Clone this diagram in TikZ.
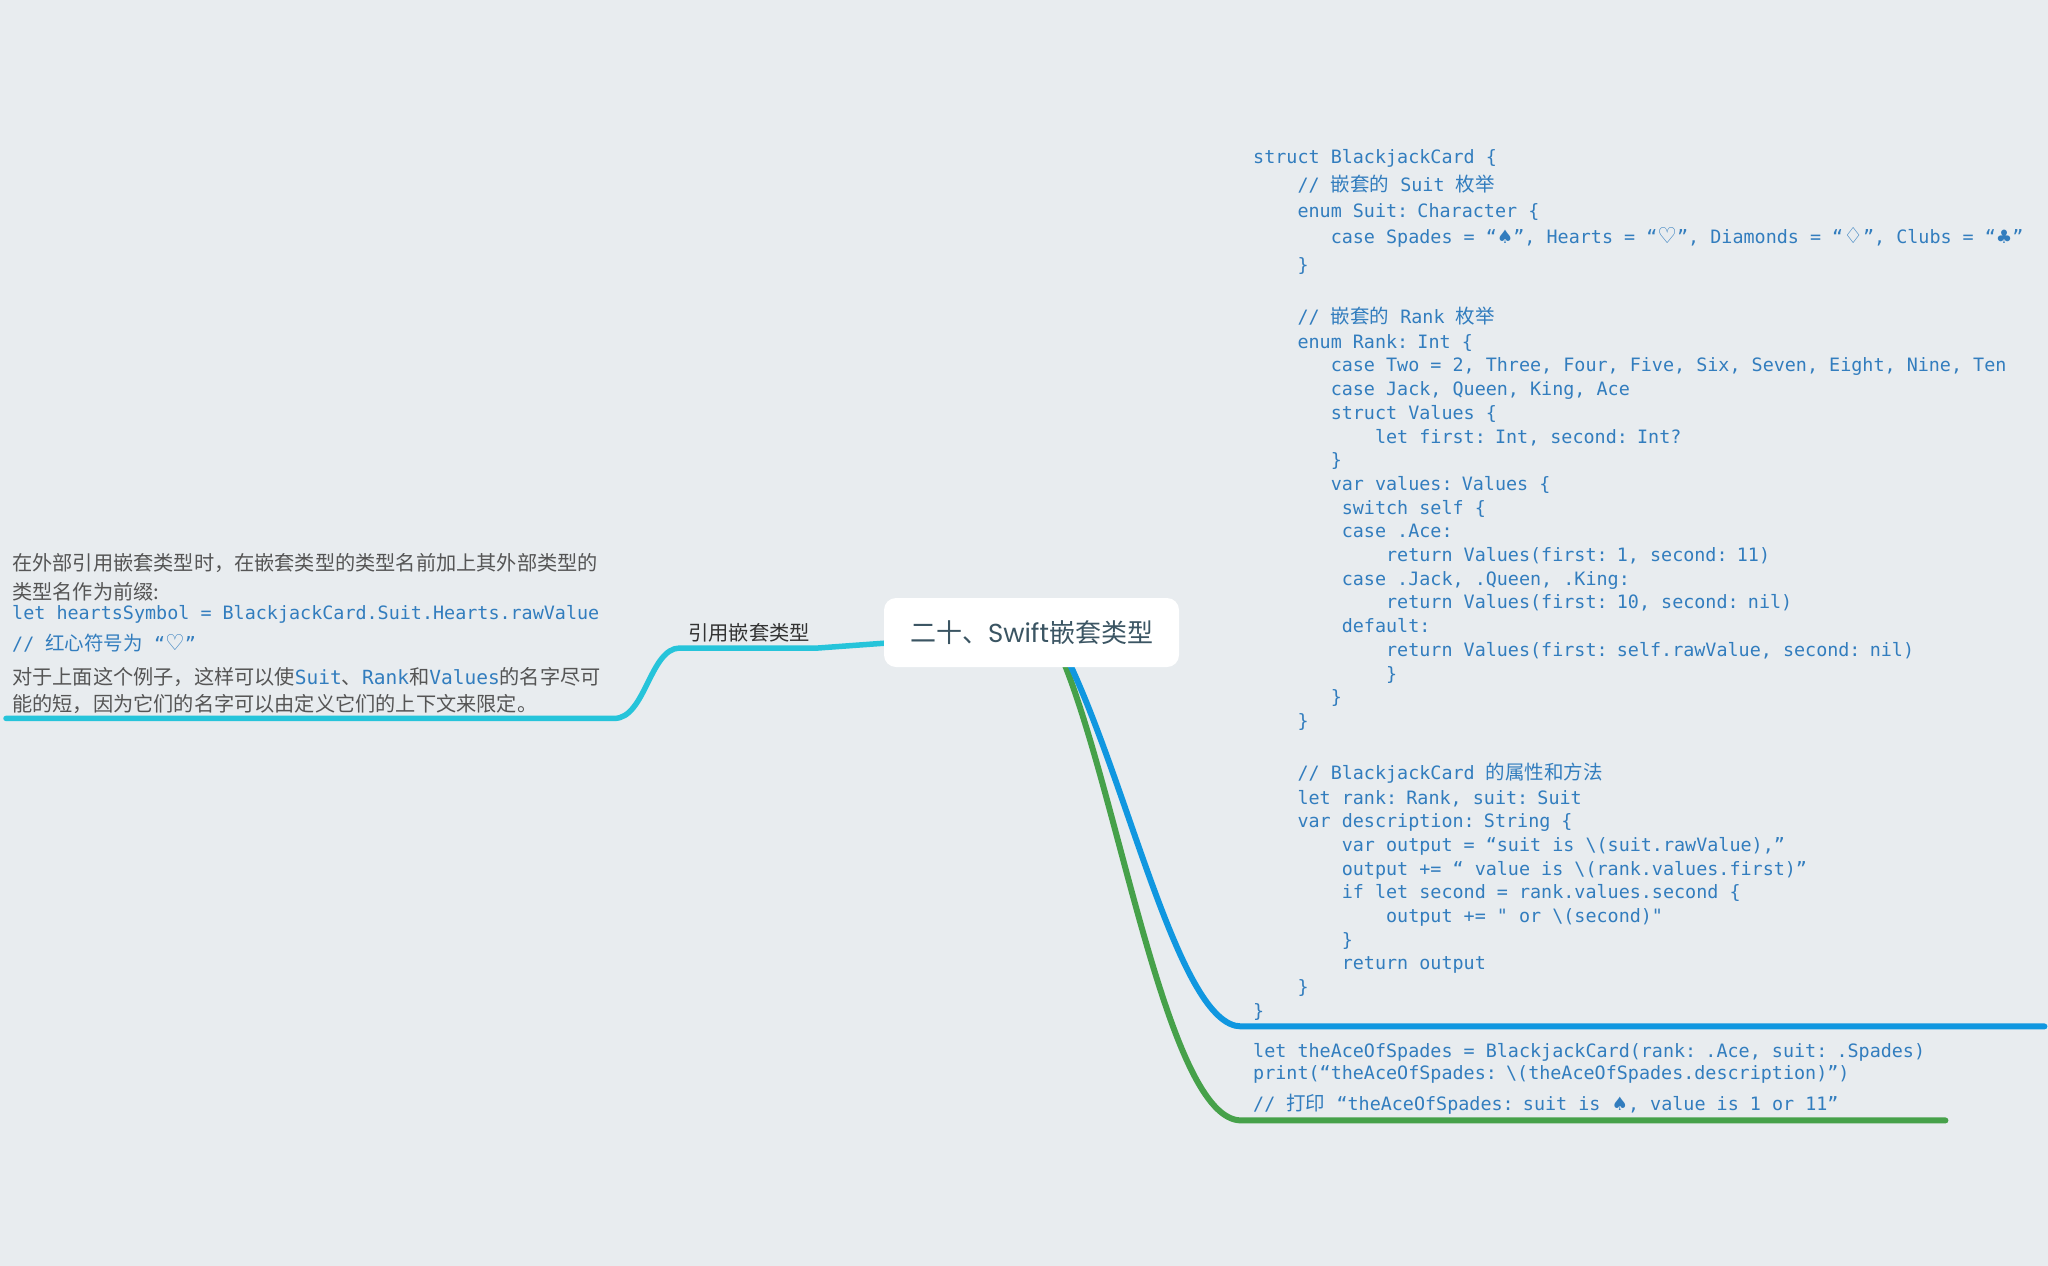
\documentclass[tikz,border=0pt]{standalone}
\usepackage{fontspec}
\newfontfamily\monof{DejaVu Sans Mono}
\newfontfamily\cjkf{Noto Sans CJK SC}
\newfontfamily\symf{DejaVu Sans}
\newfontfamily\latf{Poppins}
\usetikzlibrary{backgrounds}
\definecolor{bg}{HTML}{E8ECEF}
\definecolor{codeblue}{HTML}{327DBE}
\definecolor{graytxt}{HTML}{555555}
\definecolor{lblc}{HTML}{333333}
\definecolor{rootc}{HTML}{3B5563}
\definecolor{cyanl}{HTML}{26C4DA}
\definecolor{bluel}{HTML}{1097E0}
\definecolor{greenl}{HTML}{46A14A}
\newlength\chw
\newcommand\ind[1]{\hspace*{#1\chw}}
\newcommand\msp{\spaceskip=\chw\relax}
\newcommand\zh[1]{{\cjkf\fontsize{19.5}{23.7}\selectfont #1}}
\newcommand\sy[1]{{\symf #1}}
\newcommand\syb[1]{{\symf\fontsize{22}{23.7}\selectfont #1}}
\newcommand\cd[1]{{\monof\fontsize{18.4}{20.3}\selectfont\msp\color{codeblue}#1}}
\newcommand\cdl[1]{{\monof\fontsize{19.5}{20.3}\selectfont\color{codeblue}#1}}
\begin{document}
\settowidth\chw{\monof\fontsize{18.4}{23.7}\selectfont x}
\begin{tikzpicture}[x=1pt,y=-1pt,
  rootst/.style={rectangle, rounded corners=12pt, fill=white, minimum width=295pt, minimum height=69pt, inner sep=0pt, text=rootc, font=\cjkf\fontsize{26}{30}\selectfont},
  lblst/.style={inner xsep=8pt, inner ysep=0pt, text=lblc, font=\cjkf\fontsize{20.3}{24}\selectfont},
  notest/.style={inner xsep=6pt, inner ysep=0pt, align=left, text=graytxt, text width=596pt, font=\cjkf\fontsize{20.2}{20.3}\selectfont},
  codest/.style={inner xsep=12pt, inner ysep=0pt, align=left, text=codeblue, text width=779pt, font=\monof\fontsize{18.4}{23.7}\selectfont},
  conn/.style={line width=6pt, line cap=round, line join=round}]
\useasboundingbox (0,0) rectangle (2048,1266);

\node[rootst] (root) at (1031.5,632.5) {二十、{\latf Swift}嵌套类型};

\node[lblst, anchor=south] (lbl) at (749,648) {\rule[-7pt]{0pt}{27pt}引用嵌套类型};

\node[notest, anchor=north west] (note) at (6,549.8) {\rule{0pt}{20pt}在外部引用嵌套类型时，在嵌套类型的类型名前加上其外部类型的\\[9.1pt]
类型名作为前缀:\\
\cd{let heartsSymbol = BlackjackCard.Suit.Hearts.rawValue}\\[10.5pt]
{\monof\fontsize{18.4}{20.3}\selectfont\msp\color{codeblue}// \zh{红心符号为} “\syb{♡}”}\\[13.6pt]
对于上面这个例子，这样可以使\cdl{Suit}、\cdl{Rank}和\cdl{Values}的名字尽可\\[7pt]
能的短，因为它们的名字可以由定义它们的上下文来限定。\rule[-6.5pt]{0pt}{6.5pt}};

\node[codest, anchor=north west] (code) at (1241,143.5) {\msp\rule{0pt}{20pt}struct BlackjackCard \{\\[4.3pt]
\ind4// \zh{嵌套的} Suit \zh{枚举}\\[1.8pt]
\ind4enum Suit: Character \{\\[2.8pt]
\ind7case Spades = “\sy{♠}”, Hearts = “\syb{♡}”, Diamonds = “\syb{♢}”, Clubs = “\sy{♣}”\\[4.3pt]
\ind4\}\\[27.8pt]
\ind4// \zh{嵌套的} Rank \zh{枚举}\\[1.3pt]
\ind4enum Rank: Int \{\\
\ind7case Two = 2, Three, Four, Five, Six, Seven, Eight, Nine, Ten\\
\ind7case Jack, Queen, King, Ace\\
\ind7struct Values \{\\
\ind{11}let first: Int, second: Int?\\
\ind7\}\\
\ind7var values: Values \{\\
\ind8switch self \{\\
\ind8case .Ace:\\
\ind{12}return Values(first: 1, second: 11)\\
\ind8case .Jack, .Queen, .King:\\
\ind{12}return Values(first: 10, second: nil)\\
\ind8default:\\
\ind{12}return Values(first: self.rawValue, second: nil)\\
\ind{12}\}\\
\ind7\}\\
\ind4\}\\[27.9pt]
\ind4// BlackjackCard \zh{的属性和方法}\\[1.3pt]
\ind4let rank: Rank, suit: Suit\\
\ind4var description: String \{\\
\ind8var output = “suit is \textbackslash(suit.rawValue),”\\
\ind8output += “ value is \textbackslash(rank.values.first)”\\
\ind8if let second = rank.values.second \{\\
\ind{12}output += " or \textbackslash(second)"\\
\ind8\}\\
\ind8return output\\
\ind4\}\\
\}\rule[-8.9pt]{0pt}{8.9pt}};

\node[codest, text width=680pt, font=\monof\fontsize{18.4}{22.7}\selectfont, anchor=north west] (out) at (1241,1036.8) {\msp\rule{0pt}{20pt}let theAceOfSpades = BlackjackCard(rank: .Ace, suit: .Spades)\\
print(“theAceOfSpades: \textbackslash(theAceOfSpades.description)”)\\[8.1pt]
// \zh{打印} “theAceOfSpades: suit is \sy{♠}, value is 1 or 11”\rule[-9.7pt]{0pt}{9.7pt}};

\begin{scope}[on background layer]
\fill[bg] (0,0) rectangle (2048,1266);
\draw[conn, cyanl, line width=5.5pt] (root.center) -- (lbl.south east) -- (lbl.south west) .. controls +(-30,0) and +(31,0) .. (note.south east) -- (note.south west);
\draw[conn, greenl] ([xshift=31.5pt,yshift=7pt]root.south) .. controls (1120,800) and (1168,1120) .. (out.south west) -- (out.south east);
\draw[conn, bluel] ([xshift=36.5pt,yshift=7pt]root.south) .. controls (1130,790) and (1180,1026) .. (code.south west) -- (code.south east);
\end{scope}
\end{tikzpicture}
\end{document}
